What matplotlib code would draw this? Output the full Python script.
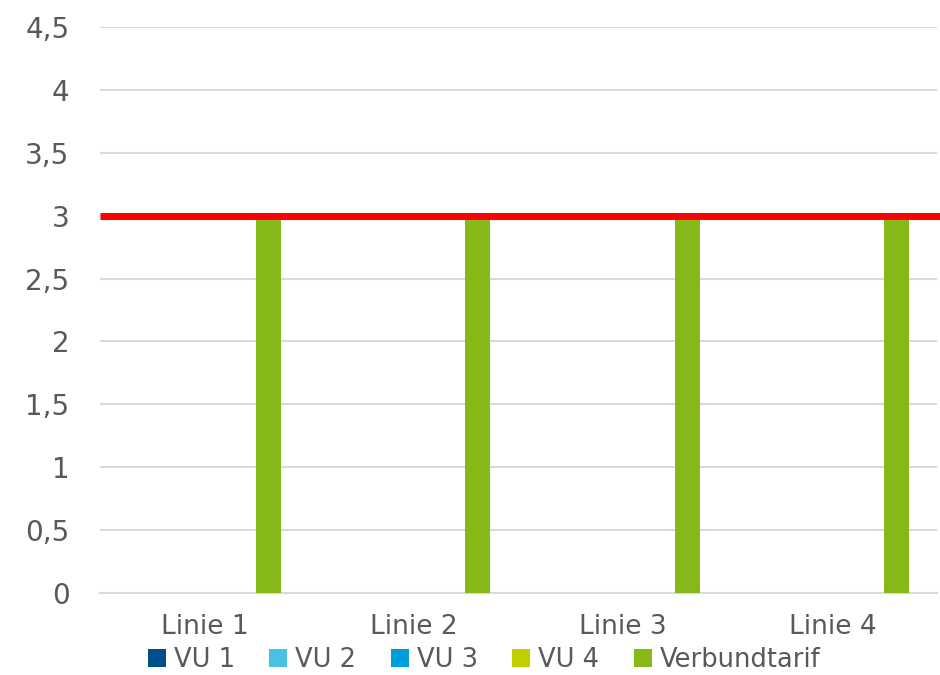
import numpy as np
import matplotlib.pyplot as plt
from matplotlib.patches import Patch

# Daten
kategorien = ["Linie 1", "Linie 2", "Linie 3", "Linie 4"]
serien = ["VU 1", "VU 2", "VU 3", "VU 4", "Verbundtarif"]
werte = [
    [0, 0, 0, 0],   # VU 1
    [0, 0, 0, 0],   # VU 2
    [0, 0, 0, 0],   # VU 3
    [0, 0, 0, 0],   # VU 4
    [3, 3, 3, 3],   # Verbundtarif
]
grenze = 3
farben = ["#004f8a", "#4bc0e5", "#009ddb", "#c0cf00", "#86b817"]
y_ticks = [0, 0.5, 1, 1.5, 2, 2.5, 3, 3.5, 4, 4.5]

grau = "#595959"
plt.rcParams['font.family'] = ['DejaVu Sans']

fig = plt.figure(figsize=(9.4, 6.75), dpi=100)
ax = fig.add_axes([100 / 940, 1 - 593 / 675, 837 / 940, 566 / 675])

x = np.arange(len(kategorien))
abstand = 0.153
breite = 0.12
for i, (name, vals) in enumerate(zip(serien, werte)):
    ax.bar(x + (i - 2) * abstand, vals, breite, color=farben[i], linewidth=0, zorder=3)

# rote Linie
ax.axhline(grenze, xmin=0, xmax=1.004, color="#ff0000", linewidth=5, zorder=4,
           clip_on=False, solid_capstyle="butt")

ax.set_xlim(-0.5, len(kategorien) - 0.5)
ax.set_ylim(0, 4.5)
ax.set_yticks(y_ticks)
ax.set_yticklabels([str(v).replace(".", ",").replace(",0", "") for v in y_ticks])
ax.set_xticks(x)
ax.set_xticklabels(kategorien)

ax.grid(axis="y", color="#d9d9d9", linewidth=1.5, zorder=0)
for s in ["top", "right", "left"]:
    ax.spines[s].set_visible(False)
ax.spines["bottom"].set_color("#d9d9d9")
ax.spines["bottom"].set_linewidth(1.5)
ax.tick_params(axis="both", length=0, labelcolor=grau)
ax.tick_params(axis="y", pad=22, labelsize=20)
ax.tick_params(axis="x", pad=15, labelsize=19)

handles = [Patch(facecolor=c, edgecolor="none") for c in farben]
leg = fig.legend(handles, serien, loc="center", bbox_to_anchor=(0.515, 1 - 660 / 675), ncol=5,
                 frameon=False, fontsize=18.5, handlelength=0.7, handleheight=0.7,
                 handletextpad=0.3, columnspacing=1.35, borderpad=0)
for t in leg.get_texts():
    t.set_color(grau)

fig.savefig("out.png", dpi=100)
